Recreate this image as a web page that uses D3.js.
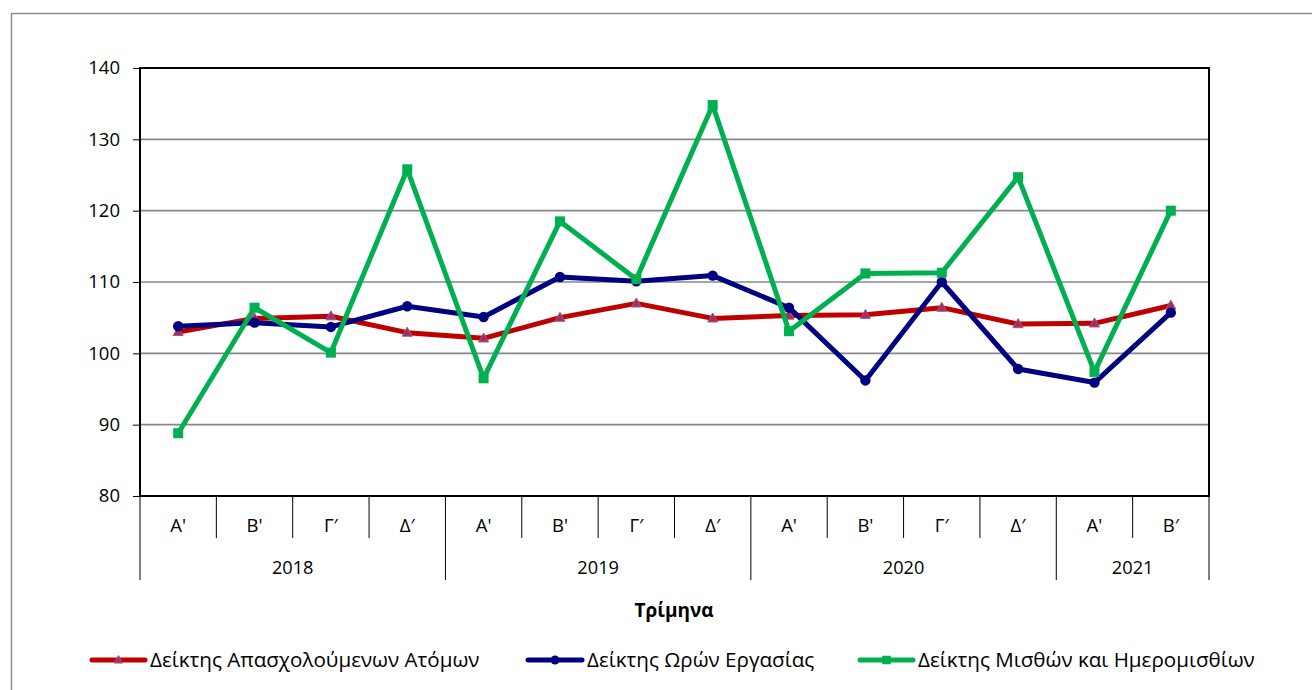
<!DOCTYPE html>
<html><head><meta charset="utf-8">
<script src="https://cdn.jsdelivr.net/npm/d3@7"></script>
<style>body{margin:0;background:#fff;}svg{display:block;font-family:"Open Sans",sans-serif;}</style>
</head><body>
<svg id="c" width="1312" height="690"></svg>
<script>
const years = ["2018","2018","2018","2018","2019","2019","2019","2019","2020","2020","2020","2020","2021","2021"];
const quarters = ["Α'","Β'","Γ′","Δ′","Α'","Β'","Γ′","Δ′","Α'","Β'","Γ′","Δ′","Α'","Β′"];
const employment = [103.0,104.9,105.2,102.9,102.1,105.0,107.0,104.9,105.3,105.4,106.4,104.1,104.2,106.7];
const hours = [103.8,104.3,103.7,106.6,105.1,110.7,110.1,110.9,106.4,96.2,110.0,97.8,95.9,105.7];
const wages = [88.8,106.4,100.1,125.8,96.5,118.5,110.4,134.8,103.1,111.2,111.3,124.7,97.4,120.0];
const yTicks = [80,90,100,110,120,130,140];
const seriesNames = ["Δείκτης Απασχολούμενων Ατόμων","Δείκτης Ωρών Εργασίας","Δείκτης Μισθών και Ημερομισθίων"];

const svg = d3.select("#c");
const L=140, R=1209, T=68, B=496;
const keys = years.map((y,i)=>y+"-"+i);
const x = d3.scaleBand().domain(keys).range([L,R]).padding(0);
const y = d3.scaleLinear().domain([80,140]).range([B,T]);
const cx = i => x(keys[i]) + x.bandwidth()/2;

// outer border
svg.append("rect").attr("x",11.5).attr("y",13.5).attr("width",1310).attr("height",690)
  .attr("fill","none").attr("stroke","#8c8c8c").attr("stroke-width",1.5);

// gridlines
svg.append("g").selectAll("line").data(yTicks.filter(t=>t>80 && t<140)).join("line")
  .attr("x1",L).attr("x2",R).attr("y1",d=>y(d)).attr("y2",d=>y(d))
  .attr("stroke","#878787").attr("stroke-width",1.6);

// y axis
const ya = svg.append("g").attr("transform",`translate(${L},0)`)
  .call(d3.axisLeft(y).tickValues(yTicks).tickSize(7).tickPadding(13));
ya.select(".domain").remove();
ya.selectAll(".tick line").attr("stroke","#000").attr("stroke-width",1);
ya.selectAll(".tick text").attr("font-size",18.5).attr("fill","#000").attr("font-family","Open Sans");

// plot frame
svg.append("rect").attr("x",L).attr("y",T).attr("width",R-L).attr("height",B-T)
  .attr("fill","none").attr("stroke","#000").attr("stroke-width",2);

// x axis: quarters
const xg = svg.append("g");
keys.forEach((k,i)=>{
  const x0 = x(k);
  const isYearStart = i===0 || years[i]!==years[i-1];
  xg.append("line").attr("x1",x0).attr("x2",x0).attr("y1",B).attr("y2",isYearStart?580:538)
    .attr("stroke","#000").attr("stroke-width",1);
  xg.append("text").attr("x",cx(i)).attr("y",531.5).attr("text-anchor","middle")
    .attr("font-size",18.5).text(quarters[i]);
});
xg.append("line").attr("x1",R).attr("x2",R).attr("y1",B).attr("y2",580).attr("stroke","#000").attr("stroke-width",1);
// years
const uniqYears = Array.from(new Set(years));
uniqYears.forEach(yr=>{
  const idx = years.map((v,i)=>v===yr?i:-1).filter(i=>i>=0);
  const x0 = x(keys[idx[0]]), x1 = x(keys[idx[idx.length-1]])+x.bandwidth();
  xg.append("text").attr("x",(x0+x1)/2).attr("y",573.5).attr("text-anchor","middle")
    .attr("font-size",18.2).text(yr);
});
svg.append("text").attr("x",674).attr("y",617).attr("text-anchor","middle")
  .attr("font-size",19).attr("font-weight","bold").text("Τρίμηνα");

const line = d3.line().x((d,i)=>cx(i)).y(d=>y(d));
const series = [
  {vals:employment,color:"#c00000",mcolor:"#993366",shape:"tri",w:5},
  {vals:hours,color:"#000080",mcolor:"#000080",shape:"circle",w:5},
  {vals:wages,color:"#00b050",mcolor:"#00b050",shape:"sq",w:5}
];
function marker(g,s,px,py,scale){
  scale = scale||1;
  if(s.shape==="tri"){
    const h=9*scale, w=10*scale;
    g.append("path").attr("d",`M${px},${py-h*0.6}L${px+w/2},${py+h*0.4}L${px-w/2},${py+h*0.4}Z`)
      .attr("fill",s.mcolor).attr("stroke","#b0507a").attr("stroke-width",1);
  } else if(s.shape==="circle"){
    g.append("circle").attr("cx",px).attr("cy",py).attr("r",5.2*scale).attr("fill",s.mcolor);
  } else {
    const a=10*scale;
    g.append("rect").attr("x",px-a/2).attr("y",py-a/2).attr("width",a).attr("height",a).attr("fill",s.mcolor);
  }
}
series.forEach(s=>{
  const g = svg.append("g");
  g.append("path").datum(s.vals).attr("d",line).attr("fill","none")
    .attr("stroke",s.color).attr("stroke-width",s.w).attr("stroke-linejoin","round");
  s.vals.forEach((v,i)=>marker(g,s,cx(i),y(v)));
});

// legend
const legX = [92,528,860], legEnd=[145,582,913], legTxt=[150,587,918], ly=660;
series.forEach((s,i)=>{
  const g = svg.append("g");
  g.append("line").attr("x1",legX[i]).attr("x2",legEnd[i]).attr("y1",ly).attr("y2",ly)
    .attr("stroke",s.color).attr("stroke-width",5).attr("stroke-linecap","round");
  marker(g,s,(legX[i]+legEnd[i])/2,ly,0.85);
  g.append("text").attr("x",legTxt[i]).attr("y",ly+7).attr("font-size",20.6).text(seriesNames[i]);
});
</script>
</body></html>
